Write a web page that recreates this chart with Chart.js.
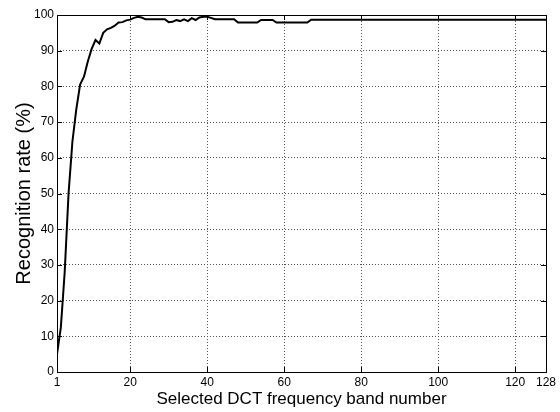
<!DOCTYPE html>
<html>
<head>
<meta charset="utf-8">
<script src="https://cdn.jsdelivr.net/npm/chart.js@4"></script>
<style>
    html, body { margin: 0; padding: 0; background: #fff; }
    #wrap { width: 560px; height: 412px; }
</style>
</head>
<body>
<div id="wrap"><canvas id="chart"></canvas></div>
<script>
// 数据
const bands = [1, 2, 3, 4, 5, 6, 7, 8, 9, 10, 11, 12, 13, 14, 15, 16, 17, 18, 19, 20,
    21, 22, 23, 24, 29, 30, 31, 32, 33, 34, 35, 36, 37, 38, 39, 40, 41, 42, 47, 48,
    53, 54, 57, 58, 66, 67, 128];
const rates = [5, 12.5, 28, 50, 64.5, 73.5, 80.5, 82.7, 87, 90.5, 93, 92, 95, 96, 96.4, 97, 97.9, 98, 98.5, 98.7,
    99.2, 99.5, 99.3, 98.8, 98.8, 98, 98.1, 98.6, 98.3, 98.8, 98.3, 99.1, 98.6, 99.3, 99.5, 99.5, 99.2, 98.8, 98.8, 97.9,
    97.9, 98.6, 98.6, 97.9, 97.9, 98.7, 98.7];
const xTicks = [1, 20, 40, 60, 80, 100, 120, 128];
const yTicks = [0, 10, 20, 30, 40, 50, 60, 70, 80, 90, 100];

const tickFont = { family: "'Liberation Sans', Arial, sans-serif", size: 12 };
const gridOpts = {
    color: '#555',
    lineWidth: 1,
    drawTicks: false
};

// 边框和向内的刻度
const framePlugin = {
    id: 'frame',
    afterDraw(chart) {
        const { ctx, chartArea: a, scales } = chart;
        const len = 5;
        ctx.save();
        ctx.strokeStyle = '#000';
        ctx.lineWidth = 1;
        ctx.beginPath();
        xTicks.forEach(v => {
            const x = Math.round(scales.x.getPixelForValue(v)) + 0.5;
            ctx.moveTo(x, a.bottom); ctx.lineTo(x, a.bottom - len);
            ctx.moveTo(x, a.top); ctx.lineTo(x, a.top + len);
        });
        yTicks.forEach(v => {
            const y = Math.round(scales.y.getPixelForValue(v)) + 0.5;
            ctx.moveTo(a.left, y); ctx.lineTo(a.left + len, y);
            ctx.moveTo(a.right, y); ctx.lineTo(a.right - len, y);
        });
        ctx.stroke();
        ctx.strokeRect(Math.round(a.left) + 0.5, Math.round(a.top) + 0.5,
            Math.round(a.right - a.left), Math.round(a.bottom - a.top));
        ctx.restore();
    }
};

const ctx = document.getElementById('chart').getContext('2d');
const chart = new Chart(ctx, {
    type: 'scatter',
    data: {
        datasets: [{
            data: bands.map((b, i) => ({ x: b, y: rates[i] })),
            showLine: true,
            borderColor: '#000',
            borderWidth: 2,
            pointRadius: 0,
            tension: 0
        }]
    },
    options: {
        responsive: true,
        maintainAspectRatio: false,
        animation: false,
        layout: { padding: { top: 15, right: 14, left: 0, bottom: 0 } },
        plugins: {
            legend: { display: false },
            tooltip: { enabled: false }
        },
        scales: {
            x: {
                type: 'linear',
                min: 1,
                max: 128,
                afterBuildTicks: scale => { scale.ticks = xTicks.map(v => ({ value: v })); },
                afterFit: scale => { scale.height = 40; },
                grid: gridOpts,
                border: { display: false, dash: [1, 2] },
                ticks: {
                    font: tickFont,
                    color: '#000',
                    padding: 3,
                    autoSkip: false,
                    maxRotation: 0,
                    callback: v => String(v)
                },
                title: {
                    display: true,
                    text: 'Selected DCT frequency band number',
                    color: '#000',
                    font: { family: "'Liberation Sans', Arial, sans-serif", size: 17 },
                    padding: { top: 0, bottom: 2 }
                }
            },
            y: {
                min: 0,
                max: 100,
                afterBuildTicks: scale => { scale.ticks = yTicks.map(v => ({ value: v })); },
                afterFit: scale => { scale.width = 57; },
                grid: gridOpts,
                border: { display: false, dash: [1, 2] },
                ticks: {
                    font: tickFont,
                    color: '#000',
                    padding: 3
                },
                title: {
                    display: true,
                    text: 'Recognition rate (%)',
                    color: '#000',
                    font: { family: "'Liberation Sans', Arial, sans-serif", size: 20 },
                    padding: { top: 12, bottom: 0 }
                }
            }
        }
    },
    plugins: [framePlugin]
});
</script>
</body>
</html>
